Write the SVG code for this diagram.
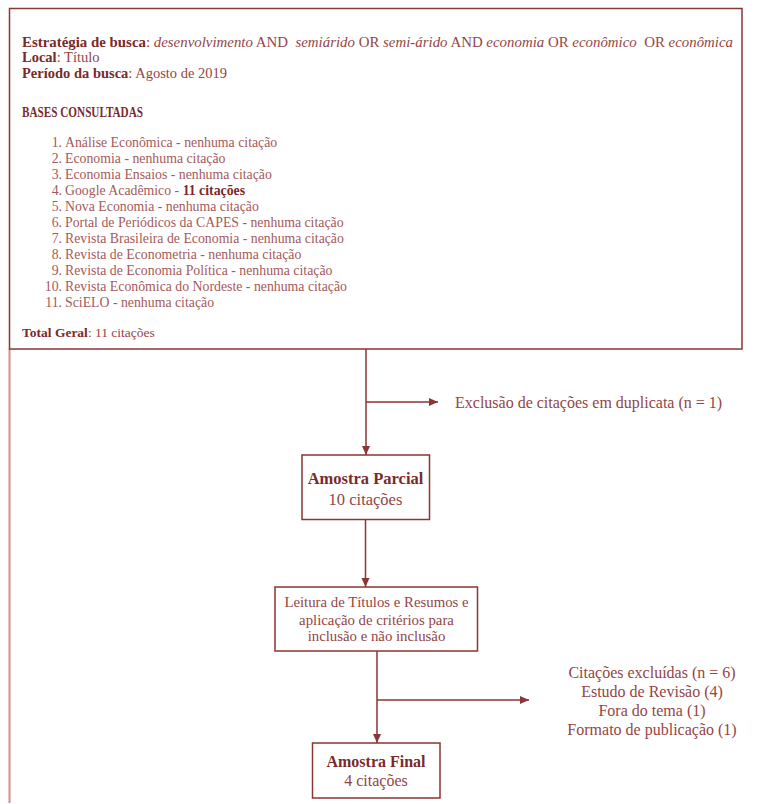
<svg xmlns="http://www.w3.org/2000/svg" width="760" height="804" viewBox="0 0 760 804">
<style>
.t{font-family:"Liberation Serif","Times New Roman",serif;fill:#944545}
.b{font-weight:bold;fill:#7a2a2a}
.i{font-style:italic}
.h{font-size:14.5px}
.l{font-size:13.8px;fill:#a45a5a}
.m{font-size:16px}
.box{fill:#ffffff;stroke:#8b3535;stroke-width:1.5}
.c{fill:none;stroke:#8b3535;stroke-width:1.5}
</style>
<defs>
<marker id="ah" markerUnits="userSpaceOnUse" markerWidth="10" markerHeight="10" refX="9" refY="5" orient="auto">
<path d="M0,1 L9,5 L0,9 z" fill="#8b3535"/>
</marker>
</defs>
<rect width="760" height="804" fill="#ffffff"/>
<line x1="9.5" y1="349" x2="9.5" y2="803" stroke="#dc8a8a" stroke-width="2"/>
<g id="busca">
<rect class="box" x="9.5" y="8.5" width="732.5" height="340.5"/>
<text class="t h" x="22" y="47" textLength="711" lengthAdjust="spacingAndGlyphs" xml:space="preserve"><tspan class="b">Estratégia de busca</tspan>: <tspan class="i">desenvolvimento</tspan> AND  <tspan class="i">semiárido</tspan> OR <tspan class="i">semi-árido</tspan> AND <tspan class="i">economia</tspan> OR <tspan class="i">econômico</tspan>  OR <tspan class="i">econômica</tspan></text>
<text class="t h" x="22" y="62"><tspan class="b">Local</tspan>: Título</text>
<text class="t h" x="22" y="78"><tspan class="b">Período da busca</tspan>: Agosto de 2019</text>
<text class="t b" x="22" y="117" font-size="14" textLength="121" lengthAdjust="spacingAndGlyphs">BASES CONSULTADAS</text>
<g class="t l" text-anchor="end">
<text x="62" y="147">1.</text>
<text x="62" y="163">2.</text>
<text x="62" y="179">3.</text>
<text x="62" y="195">4.</text>
<text x="62" y="211">5.</text>
<text x="62" y="227">6.</text>
<text x="62" y="243">7.</text>
<text x="62" y="259">8.</text>
<text x="62" y="275">9.</text>
<text x="62" y="291">10.</text>
<text x="62" y="307">11.</text>
</g>
<g class="t l">
<text x="65" y="147">Análise Econômica - nenhuma citação</text>
<text x="65" y="163">Economia - nenhuma citação</text>
<text x="65" y="179">Economia Ensaios - nenhuma citação</text>
<text x="65" y="195">Google Acadêmico - <tspan class="b">11 citações</tspan></text>
<text x="65" y="211">Nova Economia - nenhuma citação</text>
<text x="65" y="227">Portal de Periódicos da CAPES - nenhuma citação</text>
<text x="65" y="243">Revista Brasileira de Economia - nenhuma citação</text>
<text x="65" y="259">Revista de Econometria - nenhuma citação</text>
<text x="65" y="275">Revista de Economia Política - nenhuma citação</text>
<text x="65" y="291">Revista Econômica do Nordeste - nenhuma citação</text>
<text x="65" y="307">SciELO - nenhuma citação</text>
</g>
<text class="t" x="22" y="337" font-size="13.5"><tspan class="b">Total Geral</tspan>: 11 citações</text>
</g>
<g id="connectors">
<path class="c" d="M366,349 V455" marker-end="url(#ah)"/>
<path class="c" d="M366,402 H438" marker-end="url(#ah)"/>
<path class="c" d="M365.5,519.5 V587" marker-end="url(#ah)"/>
<path class="c" d="M377,651 V743" marker-end="url(#ah)"/>
<path class="c" d="M377,700 H529" marker-end="url(#ah)"/>
</g>
<g id="exclusao-duplicata">
<text class="t m" x="455" y="408">Exclusão de citações em duplicata (n = 1)</text>
</g>
<g id="amostra-parcial">
<rect class="box" x="302" y="455" width="127.5" height="64.5"/>
<text class="t b" x="365.5" y="484" font-size="16.5" text-anchor="middle">Amostra Parcial</text>
<text class="t" x="365.5" y="505" font-size="16.5" text-anchor="middle">10 citações</text>
</g>
<g id="leitura">
<rect class="box" x="275" y="587" width="202.5" height="64"/>
<g class="t" font-size="14.8" text-anchor="middle">
<text x="376.5" y="607">Leitura de Títulos e Resumos e</text>
<text x="376.5" y="625">aplicação de critérios para</text>
<text x="376.5" y="641">inclusão e não inclusão</text>
</g>
</g>
<g id="excluidas">
<g class="t m" text-anchor="middle">
<text x="652" y="678">Citações excluídas (n = 6)</text>
<text x="652" y="697">Estudo de Revisão (4)</text>
<text x="652" y="716">Fora do tema (1)</text>
<text x="652" y="735">Formato de publicação (1)</text>
</g>
</g>
<g id="amostra-final">
<rect class="box" x="312.5" y="743" width="127.5" height="55"/>
<text class="t b" x="376" y="767" font-size="16" text-anchor="middle">Amostra Final</text>
<text class="t" x="376" y="786" font-size="16" text-anchor="middle">4 citações</text>
</g>
</svg>
